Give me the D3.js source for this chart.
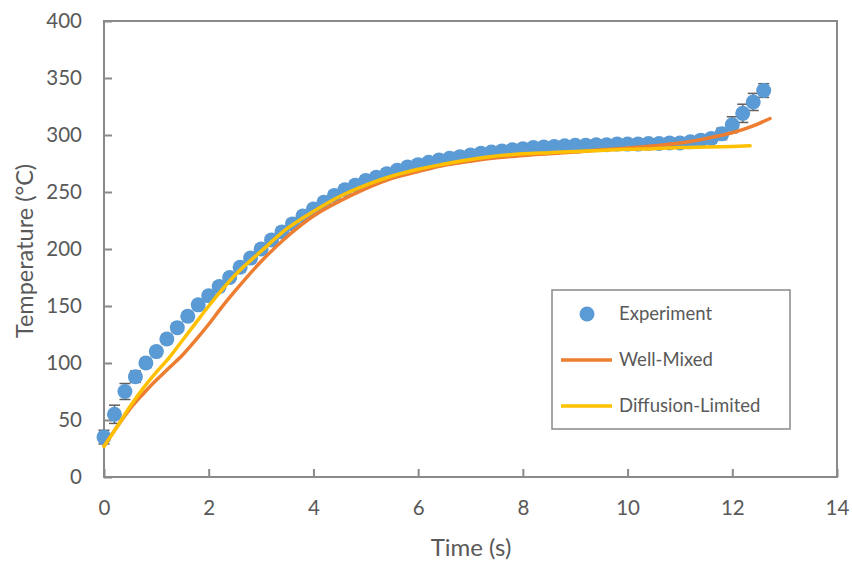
<!DOCTYPE html>
<html>
<head>
<meta charset="utf-8">
<script src="https://cdn.jsdelivr.net/npm/d3@7"></script>
<style>
  body { margin: 0; background: #fff; }
  svg { font-family: Lato, "Open Sans", sans-serif; }
</style>
</head>
<body>
<div id="chart"></div>
<script>
// experiment: time (s), temperature (°C), error (°C)
const expTime = [0, 0.2, 0.4, 0.6, 0.8, 1.0, 1.2, 1.4, 1.6, 1.8, 2.0, 2.2, 2.4, 2.6, 2.8, 3.0,
  3.2, 3.4, 3.6, 3.8, 4.0, 4.2, 4.4, 4.6, 4.8, 5.0, 5.2, 5.4, 5.6, 5.8, 6.0, 6.2, 6.4, 6.6,
  6.8, 7.0, 7.2, 7.4, 7.6, 7.8, 8.0, 8.2, 8.4, 8.6, 8.8, 9.0, 9.2, 9.4, 9.6, 9.8, 10.0, 10.2,
  10.4, 10.6, 10.8, 11.0, 11.2, 11.4, 11.6, 11.8, 12.0, 12.2, 12.4, 12.6];
const expTemp = [35, 55, 75, 88, 100, 110, 121, 131, 141, 151, 159, 167, 175, 184, 192, 200,
  208, 215, 222, 229, 235, 241, 247, 252, 256, 260, 263, 266, 269, 272, 274, 276, 278, 279.5,
  281, 282.5, 284, 285, 286, 287, 288, 289, 289.5, 290, 290.5, 291, 291, 291.5, 291.5, 292, 292, 292,
  292.5, 292.5, 293, 293, 294, 295.5, 297, 301, 309, 319, 329, 339];
const expErr = [6, 8, 7, 5, 4, 4, 4, 4, 4, 4, 4, 4, 4, 4, 4, 4,
  4, 4, 4, 4, 4, 4, 4, 4, 4, 4, 4, 4, 4, 4, 4, 4, 4, 4,
  4, 4, 4, 4, 4, 4, 4, 4, 4, 4, 4, 4, 4, 4, 4, 4, 4, 4,
  4, 4, 4, 4, 4, 4, 4, 5, 7, 8, 7.5, 6];

// well-mixed model
const wmTime = [0, 0.25, 0.5, 0.75, 1.0, 1.25, 1.5, 1.75, 2.0, 2.25, 2.5, 3.0, 3.5, 4.0, 4.5,
  5.0, 5.5, 6.0, 6.5, 7.0, 7.5, 8.0, 8.5, 9.0, 9.5, 10.0, 10.5, 11.0, 11.5, 12.0, 12.4, 12.72];
const wmTemp = [27, 44, 60, 73, 85, 96, 107, 120, 134, 149, 163, 189, 211, 229, 242,
  253, 262, 268, 273.5, 277, 280, 282, 283.5, 285, 287, 288.5, 290.5, 293, 297, 302, 308, 314.5];

// diffusion-limited model
const dlTime = [0, 0.25, 0.5, 0.75, 1.0, 1.25, 1.5, 1.75, 2.0, 2.5, 3.0, 3.5, 4.0, 4.5,
  5.0, 5.5, 6.0, 6.5, 7.0, 7.5, 8.0, 8.5, 9.0, 9.5, 10.0, 10.5, 11.0, 11.5, 12.0, 12.34];
const dlTemp = [27, 44, 62, 78, 92, 105, 120, 135, 150, 177, 198, 218, 233, 246,
  256, 264, 270, 274.5, 278.5, 281.5, 283.5, 284.5, 285.5, 286.5, 287.5, 288, 289, 289.5, 290, 290.5];

const xTicks = [0, 2, 4, 6, 8, 10, 12, 14];
const yTicks = [0, 50, 100, 150, 200, 250, 300, 350, 400];

const width = 852;
const height = 561;
const plotLeft = 104, plotRight = 837, plotTop = 21, plotBottom = 477;

const blue = '#5B9BD5', orange = '#ED7D31', yellow = '#FFC000';
const axisColor = '#898989', textColor = '#595959';

const svg = d3.select('#chart').append('svg')
  .attr('width', width)
  .attr('height', height);

const x = d3.scaleLinear().domain([0, 14]).range([plotLeft, plotRight]);
const y = d3.scaleLinear().domain([0, 400]).range([plotBottom, plotTop]);

// tick labels (ticks point inward, frame drawn below)
svg.append('g')
  .attr('transform', `translate(0,${plotBottom})`)
  .call(d3.axisBottom(x).tickValues(xTicks).tickSize(-8).tickPadding(23).tickFormat(d3.format('d')))
  .call(g => g.select('.domain').remove())
  .call(g => g.selectAll('line').attr('stroke', axisColor).attr('stroke-width', 2))
  .call(g => g.selectAll('text').attr('fill', textColor).attr('font-size', 20.5).attr('font-family', 'Lato, sans-serif'));

svg.append('g')
  .attr('transform', `translate(${plotLeft},0)`)
  .call(d3.axisLeft(y).tickValues(yTicks).tickSize(-8).tickPadding(22))
  .call(g => g.select('.domain').remove())
  .call(g => g.selectAll('line').attr('stroke', axisColor).attr('stroke-width', 2))
  .call(g => g.selectAll('text').attr('fill', textColor).attr('font-size', 20.5).attr('font-family', 'Lato, sans-serif'));

// plot frame
svg.append('rect')
  .attr('x', plotLeft).attr('y', plotTop)
  .attr('width', plotRight - plotLeft).attr('height', plotBottom - plotTop)
  .attr('fill', 'none')
  .attr('stroke', axisColor)
  .attr('stroke-width', 2);

// axis titles
svg.append('text')
  .attr('x', 471)
  .attr('y', 556)
  .attr('text-anchor', 'middle')
  .attr('fill', textColor)
  .attr('font-size', 24)
  .text('Time (s)');

svg.append('text')
  .attr('transform', `translate(33,${(plotTop + plotBottom) / 2 + 2}) rotate(-90)`)
  .attr('text-anchor', 'middle')
  .attr('fill', textColor)
  .attr('font-size', 23.5)
  .text('Temperature (°C)');

// experiment error bars (drawn under markers)
const expData = expTime.map((t, i) => ({ t: t, v: expTemp[i], e: expErr[i] }));

const eb = svg.append('g')
  .attr('stroke', '#5f5f5f')
  .attr('stroke-width', 1.5)
  .selectAll('g')
  .data(expData)
  .enter()
  .append('g');
eb.append('line')
  .attr('x1', d => x(d.t)).attr('x2', d => x(d.t))
  .attr('y1', d => y(d.v - d.e)).attr('y2', d => y(d.v + d.e));
eb.append('line')
  .attr('x1', d => x(d.t) - 5.5).attr('x2', d => x(d.t) + 5.5)
  .attr('y1', d => y(d.v + d.e)).attr('y2', d => y(d.v + d.e));
eb.append('line')
  .attr('x1', d => x(d.t) - 5.5).attr('x2', d => x(d.t) + 5.5)
  .attr('y1', d => y(d.v - d.e)).attr('y2', d => y(d.v - d.e));

// experiment markers
svg.append('g')
  .selectAll('circle')
  .data(expData)
  .enter()
  .append('circle')
  .attr('cx', d => x(d.t))
  .attr('cy', d => y(d.v))
  .attr('r', 7.5)
  .attr('fill', blue);

// model lines
const line = d3.line()
  .x(d => x(d[0]))
  .y(d => y(d[1]))
  .curve(d3.curveMonotoneX);

svg.append('path')
  .datum(wmTime.map((t, i) => [t, wmTemp[i]]))
  .attr('d', line)
  .attr('fill', 'none')
  .attr('stroke', orange)
  .attr('stroke-width', 3.5)
  .attr('stroke-linecap', 'round');

svg.append('path')
  .datum(dlTime.map((t, i) => [t, dlTemp[i]]))
  .attr('d', line)
  .attr('fill', 'none')
  .attr('stroke', yellow)
  .attr('stroke-width', 3.5)
  .attr('stroke-linecap', 'round');

// legend
const legend = svg.append('g');
legend.append('rect')
  .attr('x', 552).attr('y', 290)
  .attr('width', 238).attr('height', 139)
  .attr('fill', '#fff')
  .attr('stroke', axisColor)
  .attr('stroke-width', 1.5);

const items = [
  { name: 'Experiment', type: 'dot', color: blue, cy: 314 },
  { name: 'Well-Mixed', type: 'line', color: orange, cy: 360 },
  { name: 'Diffusion-Limited', type: 'line', color: yellow, cy: 406 }
];

items.forEach(it => {
  if (it.type === 'dot') {
    legend.append('circle')
      .attr('cx', 587).attr('cy', it.cy).attr('r', 7.5).attr('fill', it.color);
  } else {
    legend.append('line')
      .attr('x1', 561).attr('x2', 612)
      .attr('y1', it.cy).attr('y2', it.cy)
      .attr('stroke', it.color).attr('stroke-width', 3.5);
  }
  legend.append('text')
    .attr('x', 619).attr('y', it.cy)
    .attr('dy', '0.35em')
    .attr('fill', textColor)
    .attr('font-size', 18.5)
    .text(it.name);
});
</script>
</body>
</html>
